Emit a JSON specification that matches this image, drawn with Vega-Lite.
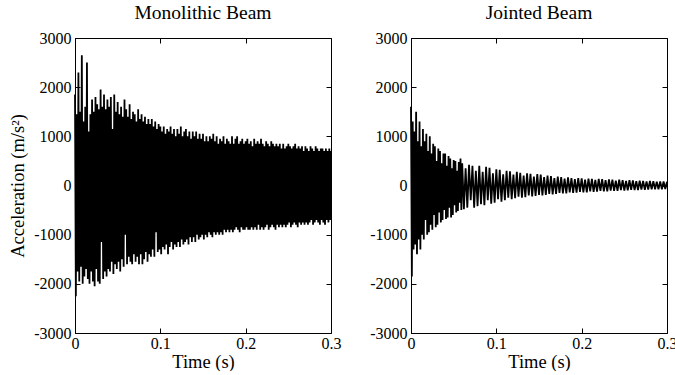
{
  "$schema": "https://vega.github.io/schema/vega-lite/v6.json",
  "background": "white",
  "padding": {"left": 8, "top": 2, "right": 0, "bottom": 0},
  "bounds": "flush",
  "spacing": 80,
  "config": {
    "font": "Liberation Serif",
    "view": {"stroke": "black", "strokeWidth": 1},
    "axis": {"grid": false, "domain": false, "tickColor": "black", "tickSize": -5, "labelColor": "black", "labelFont": "Liberation Serif", "labelFontSize": 16, "labelFlush": false, "labelExpr": "'' + datum.value", "titleFont": "Liberation Serif", "titleFontSize": 18.5, "titleFontWeight": "normal", "titleColor": "black", "labelOverlap": false},
    "title": {"font": "Liberation Serif", "fontSize": 19.5, "fontWeight": "normal", "color": "black", "offset": 7}
  },
  "datasets": {
    "mono": [
      {"t":0.000,"v":1850},{"t":0.001,"v":-2250},{"t":0.002,"v":1450},{"t":0.003,"v":-1750},{"t":0.004,"v":2300},{"t":0.005,"v":-1950},{"t":0.006,"v":1500},{"t":0.007,"v":-1650},{"t":0.008,"v":2650},{"t":0.009,"v":-2000},
      {"t":0.010,"v":1300},{"t":0.011,"v":-1850},{"t":0.012,"v":1600},{"t":0.013,"v":-1700},{"t":0.014,"v":2500},{"t":0.015,"v":-1900},{"t":0.016,"v":1100},{"t":0.017,"v":-2000},{"t":0.018,"v":1450},{"t":0.019,"v":-1750},
      {"t":0.020,"v":1750},{"t":0.021,"v":-1950},{"t":0.022,"v":1500},{"t":0.023,"v":-2050},{"t":0.024,"v":1800},{"t":0.025,"v":-1700},{"t":0.026,"v":1650},{"t":0.027,"v":-1950},{"t":0.028,"v":1550},{"t":0.029,"v":-2000},
      {"t":0.030,"v":1950},{"t":0.031,"v":-1150},{"t":0.032,"v":1600},{"t":0.033,"v":-1900},{"t":0.034,"v":1850},{"t":0.035,"v":-1750},{"t":0.036,"v":1550},{"t":0.037,"v":-1850},{"t":0.038,"v":1750},{"t":0.039,"v":-1700},
      {"t":0.040,"v":1600},{"t":0.041,"v":-1750},{"t":0.042,"v":1800},{"t":0.043,"v":-1550},{"t":0.044,"v":1150},{"t":0.045,"v":-1800},{"t":0.046,"v":1850},{"t":0.047,"v":-1600},{"t":0.048,"v":1500},{"t":0.049,"v":-1700},
      {"t":0.050,"v":1700},{"t":0.051,"v":-1550},{"t":0.052,"v":1450},{"t":0.053,"v":-1750},{"t":0.054,"v":1600},{"t":0.055,"v":-1500},{"t":0.056,"v":1400},{"t":0.057,"v":-1650},{"t":0.058,"v":1750},{"t":0.059,"v":-1000},
      {"t":0.060,"v":1550},{"t":0.061,"v":-1600},{"t":0.062,"v":1400},{"t":0.063,"v":-1450},{"t":0.064,"v":1650},{"t":0.065,"v":-1550},{"t":0.066,"v":1350},{"t":0.067,"v":-1600},{"t":0.068,"v":1500},{"t":0.069,"v":-1400},
      {"t":0.070,"v":1450},{"t":0.071,"v":-1550},{"t":0.072,"v":1300},{"t":0.073,"v":-1450},{"t":0.074,"v":1550},{"t":0.075,"v":-1600},{"t":0.076,"v":1350},{"t":0.077,"v":-1400},{"t":0.078,"v":1450},{"t":0.079,"v":-1600},
      {"t":0.080,"v":1300},{"t":0.081,"v":-1500},{"t":0.082,"v":1400},{"t":0.083,"v":-1350},{"t":0.084,"v":1250},{"t":0.085,"v":-1550},{"t":0.086,"v":1350},{"t":0.087,"v":-1400},{"t":0.088,"v":1250},{"t":0.089,"v":-1450},
      {"t":0.090,"v":1350},{"t":0.091,"v":-1300},{"t":0.092,"v":1200},{"t":0.093,"v":-1450},{"t":0.094,"v":1300},{"t":0.095,"v":-950},{"t":0.096,"v":1150},{"t":0.097,"v":-1350},{"t":0.098,"v":1250},{"t":0.099,"v":-1300},
      {"t":0.100,"v":1200},{"t":0.101,"v":-1400},{"t":0.102,"v":1100},{"t":0.103,"v":-1250},{"t":0.104,"v":1200},{"t":0.105,"v":-1300},{"t":0.106,"v":1050},{"t":0.107,"v":-1200},{"t":0.108,"v":1150},{"t":0.109,"v":-1400},
      {"t":0.110,"v":1100},{"t":0.111,"v":-1250},{"t":0.112,"v":1200},{"t":0.113,"v":-1150},{"t":0.114,"v":1050},{"t":0.115,"v":-1300},{"t":0.116,"v":1150},{"t":0.117,"v":-1200},{"t":0.118,"v":1000},{"t":0.119,"v":-1250},
      {"t":0.120,"v":1150},{"t":0.121,"v":-1150},{"t":0.122,"v":1050},{"t":0.123,"v":-1250},{"t":0.124,"v":1200},{"t":0.125,"v":-1100},{"t":0.126,"v":1000},{"t":0.127,"v":-1200},{"t":0.128,"v":1100},{"t":0.129,"v":-1150},
      {"t":0.130,"v":1150},{"t":0.131,"v":-1100},{"t":0.132,"v":1000},{"t":0.133,"v":-1200},{"t":0.134,"v":1100},{"t":0.135,"v":-1050},{"t":0.136,"v":950},{"t":0.137,"v":-1150},{"t":0.138,"v":1100},{"t":0.139,"v":-1050},
      {"t":0.140,"v":1000},{"t":0.141,"v":-1150},{"t":0.142,"v":1100},{"t":0.143,"v":-1000},{"t":0.144,"v":950},{"t":0.145,"v":-1100},{"t":0.146,"v":1050},{"t":0.147,"v":-1050},{"t":0.148,"v":950},{"t":0.149,"v":-1000},
      {"t":0.150,"v":1050},{"t":0.151,"v":-1100},{"t":0.152,"v":900},{"t":0.153,"v":-1000},{"t":0.154,"v":1000},{"t":0.155,"v":-1050},{"t":0.156,"v":900},{"t":0.157,"v":-950},{"t":0.158,"v":1000},{"t":0.159,"v":-1000},
      {"t":0.160,"v":950},{"t":0.161,"v":-1050},{"t":0.162,"v":1050},{"t":0.163,"v":-950},{"t":0.164,"v":900},{"t":0.165,"v":-1000},{"t":0.166,"v":1000},{"t":0.167,"v":-950},{"t":0.168,"v":850},{"t":0.169,"v":-1000},
      {"t":0.170,"v":950},{"t":0.171,"v":-950},{"t":0.172,"v":900},{"t":0.173,"v":-1000},{"t":0.174,"v":1000},{"t":0.175,"v":-900},{"t":0.176,"v":850},{"t":0.177,"v":-950},{"t":0.178,"v":950},{"t":0.179,"v":-900},
      {"t":0.180,"v":900},{"t":0.181,"v":-950},{"t":0.182,"v":850},{"t":0.183,"v":-900},{"t":0.184,"v":1000},{"t":0.185,"v":-950},{"t":0.186,"v":850},{"t":0.187,"v":-900},{"t":0.188,"v":950},{"t":0.189,"v":-850},
      {"t":0.190,"v":1000},{"t":0.191,"v":-900},{"t":0.192,"v":850},{"t":0.193,"v":-950},{"t":0.194,"v":900},{"t":0.195,"v":-850},{"t":0.196,"v":950},{"t":0.197,"v":-900},{"t":0.198,"v":850},{"t":0.199,"v":-900},
      {"t":0.200,"v":900},{"t":0.201,"v":-850},{"t":0.202,"v":950},{"t":0.203,"v":-900},{"t":0.204,"v":850},{"t":0.205,"v":-900},{"t":0.206,"v":900},{"t":0.207,"v":-850},{"t":0.208,"v":800},{"t":0.209,"v":-900},
      {"t":0.210,"v":950},{"t":0.211,"v":-850},{"t":0.212,"v":850},{"t":0.213,"v":-900},{"t":0.214,"v":900},{"t":0.215,"v":-800},{"t":0.216,"v":850},{"t":0.217,"v":-900},{"t":0.218,"v":950},{"t":0.219,"v":-850},
      {"t":0.220,"v":850},{"t":0.221,"v":-900},{"t":0.222,"v":800},{"t":0.223,"v":-850},{"t":0.224,"v":900},{"t":0.225,"v":-800},{"t":0.226,"v":850},{"t":0.227,"v":-900},{"t":0.228,"v":800},{"t":0.229,"v":-850},
      {"t":0.230,"v":900},{"t":0.231,"v":-800},{"t":0.232,"v":850},{"t":0.233,"v":-850},{"t":0.234,"v":800},{"t":0.235,"v":-900},{"t":0.236,"v":850},{"t":0.237,"v":-800},{"t":0.238,"v":800},{"t":0.239,"v":-850},
      {"t":0.240,"v":850},{"t":0.241,"v":-800},{"t":0.242,"v":750},{"t":0.243,"v":-850},{"t":0.244,"v":850},{"t":0.245,"v":-800},{"t":0.246,"v":750},{"t":0.247,"v":-850},{"t":0.248,"v":800},{"t":0.249,"v":-800},
      {"t":0.250,"v":850},{"t":0.251,"v":-750},{"t":0.252,"v":800},{"t":0.253,"v":-850},{"t":0.254,"v":750},{"t":0.255,"v":-800},{"t":0.256,"v":800},{"t":0.257,"v":-750},{"t":0.258,"v":850},{"t":0.259,"v":-800},
      {"t":0.260,"v":750},{"t":0.261,"v":-850},{"t":0.262,"v":800},{"t":0.263,"v":-750},{"t":0.264,"v":750},{"t":0.265,"v":-800},{"t":0.266,"v":800},{"t":0.267,"v":-750},{"t":0.268,"v":700},{"t":0.269,"v":-800},
      {"t":0.270,"v":800},{"t":0.271,"v":-750},{"t":0.272,"v":750},{"t":0.273,"v":-800},{"t":0.274,"v":700},{"t":0.275,"v":-750},{"t":0.276,"v":800},{"t":0.277,"v":-700},{"t":0.278,"v":750},{"t":0.279,"v":-800},
      {"t":0.280,"v":700},{"t":0.281,"v":-750},{"t":0.282,"v":800},{"t":0.283,"v":-700},{"t":0.284,"v":750},{"t":0.285,"v":-750},{"t":0.286,"v":700},{"t":0.287,"v":-800},{"t":0.288,"v":750},{"t":0.289,"v":-700},
      {"t":0.290,"v":750},{"t":0.291,"v":-750},{"t":0.292,"v":700},{"t":0.293,"v":-800},{"t":0.294,"v":750},{"t":0.295,"v":-700},{"t":0.296,"v":700},{"t":0.297,"v":-750},{"t":0.298,"v":750},{"t":0.299,"v":-700},
      {"t":0.300,"v":700}
    ],
    "joint": [
      {"t":0.000,"v":1600},{"t":0.001,"v":-1850},{"t":0.002,"v":1300},{"t":0.003,"v":-1300},{"t":0.004,"v":1100},{"t":0.005,"v":-1200},{"t":0.006,"v":1500},{"t":0.007,"v":-1400},{"t":0.008,"v":900},{"t":0.009,"v":-1100},
      {"t":0.010,"v":1300},{"t":0.011,"v":-1300},{"t":0.012,"v":800},{"t":0.013,"v":-1000},{"t":0.014,"v":1150},{"t":0.015,"v":-1100},{"t":0.016,"v":900},{"t":0.017,"v":-700},{"t":0.018,"v":1050},{"t":0.019,"v":-1000},
      {"t":0.020,"v":700},{"t":0.021,"v":-950},{"t":0.022,"v":1000},{"t":0.023,"v":-800},{"t":0.024,"v":650},{"t":0.025,"v":-900},{"t":0.026,"v":850},{"t":0.027,"v":-600},{"t":0.028,"v":800},{"t":0.029,"v":-850},
      {"t":0.030,"v":500},{"t":0.031,"v":-800},{"t":0.032,"v":750},{"t":0.033,"v":-550},{"t":0.034,"v":700},{"t":0.035,"v":-750},{"t":0.036,"v":450},{"t":0.037,"v":-700},{"t":0.038,"v":650},{"t":0.039,"v":-500},
      {"t":0.040,"v":650},{"t":0.041,"v":-680},{"t":0.042,"v":400},{"t":0.043,"v":-650},{"t":0.044,"v":600},{"t":0.045,"v":-450},{"t":0.046,"v":550},{"t":0.047,"v":-650},{"t":0.048,"v":350},{"t":0.049,"v":-600},
      {"t":0.050,"v":520},{"t":0.051,"v":-400},{"t":0.052,"v":500},{"t":0.053,"v":-550},{"t":0.054,"v":300},{"t":0.055,"v":-520},{"t":0.056,"v":480},{"t":0.057,"v":-350},{"t":0.058,"v":550},{"t":0.059,"v":-500},
      {"t":0.060,"v":450},{"t":0.062,"v":-480},{"t":0.064,"v":350},{"t":0.066,"v":-450},{"t":0.068,"v":420},{"t":0.070,"v":-300},{"t":0.072,"v":400},{"t":0.074,"v":-450},{"t":0.076,"v":300},{"t":0.078,"v":-420},
      {"t":0.080,"v":400},{"t":0.082,"v":-380},{"t":0.084,"v":280},{"t":0.086,"v":-400},{"t":0.088,"v":380},{"t":0.090,"v":-300},{"t":0.092,"v":360},{"t":0.094,"v":-370},{"t":0.096,"v":250},{"t":0.098,"v":-350},
      {"t":0.100,"v":330},{"t":0.102,"v":-280},{"t":0.104,"v":320},{"t":0.106,"v":-330},{"t":0.108,"v":230},{"t":0.110,"v":-300},{"t":0.112,"v":300},{"t":0.114,"v":-250},{"t":0.116,"v":290},{"t":0.118,"v":-280},
      {"t":0.120,"v":220},{"t":0.122,"v":-260},{"t":0.124,"v":280},{"t":0.126,"v":-230},{"t":0.128,"v":260},{"t":0.130,"v":-250},{"t":0.132,"v":200},{"t":0.134,"v":-240},{"t":0.136,"v":250},{"t":0.138,"v":-200},
      {"t":0.140,"v":240},{"t":0.142,"v":-220},{"t":0.144,"v":180},{"t":0.146,"v":-210},{"t":0.148,"v":230},{"t":0.150,"v":-190},{"t":0.152,"v":220},{"t":0.154,"v":-200},{"t":0.156,"v":170},{"t":0.158,"v":-190},
      {"t":0.160,"v":200},{"t":0.162,"v":-170},{"t":0.164,"v":190},{"t":0.166,"v":-180},{"t":0.168,"v":150},{"t":0.170,"v":-170},{"t":0.172,"v":180},{"t":0.174,"v":-150},{"t":0.176,"v":170},{"t":0.178,"v":-160},
      {"t":0.180,"v":140},{"t":0.182,"v":-160},{"t":0.184,"v":165},{"t":0.186,"v":-140},{"t":0.188,"v":150},{"t":0.190,"v":-150},{"t":0.192,"v":130},{"t":0.194,"v":-145},{"t":0.196,"v":150},{"t":0.198,"v":-130},
      {"t":0.200,"v":145},{"t":0.202,"v":-140},{"t":0.204,"v":120},{"t":0.206,"v":-140},{"t":0.208,"v":140},{"t":0.210,"v":-120},{"t":0.212,"v":135},{"t":0.214,"v":-130},{"t":0.216,"v":115},{"t":0.218,"v":-125},
      {"t":0.220,"v":135},{"t":0.222,"v":-110},{"t":0.224,"v":130},{"t":0.226,"v":-120},{"t":0.228,"v":110},{"t":0.230,"v":-120},{"t":0.232,"v":125},{"t":0.234,"v":-105},{"t":0.236,"v":120},{"t":0.238,"v":-110},
      {"t":0.240,"v":100},{"t":0.242,"v":-110},{"t":0.244,"v":120},{"t":0.246,"v":-95},{"t":0.248,"v":110},{"t":0.250,"v":-105},{"t":0.252,"v":95},{"t":0.254,"v":-100},{"t":0.256,"v":110},{"t":0.258,"v":-90},
      {"t":0.260,"v":105},{"t":0.262,"v":-95},{"t":0.264,"v":90},{"t":0.266,"v":-95},{"t":0.268,"v":100},{"t":0.270,"v":-85},{"t":0.272,"v":95},{"t":0.274,"v":-90},{"t":0.276,"v":85},{"t":0.278,"v":-85},
      {"t":0.280,"v":95},{"t":0.282,"v":-80},{"t":0.284,"v":90},{"t":0.286,"v":-80},{"t":0.288,"v":80},{"t":0.290,"v":-80},{"t":0.292,"v":85},{"t":0.294,"v":-75},{"t":0.296,"v":80},{"t":0.298,"v":-70},
      {"t":0.300,"v":75}
    ],
    "frame": [{"t":0,"v":0}]
  },
  "hconcat": [
    {
      "width": 256, "height": 295,
      "title": {"text": "Monolithic Beam"},
      "layer": [
        {
          "data": {"name": "mono"},
          "mark": {"type": "line", "color": "black", "strokeWidth": 1.8},
          "encoding": {
            "x": {"field": "t", "type": "quantitative", "scale": {"domain": [0, 0.3], "nice": false}, "axis": {"orient": "bottom", "values": [0, 0.1, 0.2, 0.3], "labelPadding": 7, "title": "Time (s)", "titlePadding": 1}},
            "y": {"field": "v", "type": "quantitative", "scale": {"domain": [-3000, 3000], "nice": false}, "axis": {"orient": "left", "values": [-3000, -2000, -1000, 0, 1000, 2000, 3000], "labelPadding": 9, "title": "Acceleration (m/s²)", "titlePadding": 6}}
          }
        },
        {
          "data": {"name": "frame"},
          "mark": {"type": "point", "opacity": 0},
          "encoding": {
            "x": {"field": "t", "type": "quantitative", "scale": {"domain": [0, 0.3], "nice": false}, "axis": {"orient": "top", "values": [0, 0.1, 0.2, 0.3], "labels": false, "title": null}},
            "y": {"field": "v", "type": "quantitative", "scale": {"domain": [-3000, 3000], "nice": false}, "axis": {"orient": "right", "values": [-3000, -2000, -1000, 0, 1000, 2000, 3000], "labels": false, "title": null}}
          }
        }
      ],
      "resolve": {"axis": {"x": "independent", "y": "independent"}}
    },
    {
      "width": 256, "height": 295,
      "title": {"text": "Jointed Beam"},
      "layer": [
        {
          "data": {"name": "joint"},
          "mark": {"type": "line", "color": "black", "strokeWidth": 1.8},
          "encoding": {
            "x": {"field": "t", "type": "quantitative", "scale": {"domain": [0, 0.3], "nice": false}, "axis": {"orient": "bottom", "values": [0, 0.1, 0.2, 0.3], "labelPadding": 7, "title": "Time (s)", "titlePadding": 1}},
            "y": {"field": "v", "type": "quantitative", "scale": {"domain": [-3000, 3000], "nice": false}, "axis": {"orient": "left", "values": [-3000, -2000, -1000, 0, 1000, 2000, 3000], "labelPadding": 9, "title": null}}
          }
        },
        {
          "data": {"name": "frame"},
          "mark": {"type": "point", "opacity": 0},
          "encoding": {
            "x": {"field": "t", "type": "quantitative", "scale": {"domain": [0, 0.3], "nice": false}, "axis": {"orient": "top", "values": [0, 0.1, 0.2, 0.3], "labels": false, "title": null}},
            "y": {"field": "v", "type": "quantitative", "scale": {"domain": [-3000, 3000], "nice": false}, "axis": {"orient": "right", "values": [-3000, -2000, -1000, 0, 1000, 2000, 3000], "labels": false, "title": null}}
          }
        }
      ],
      "resolve": {"axis": {"x": "independent", "y": "independent"}}
    }
  ]
}
